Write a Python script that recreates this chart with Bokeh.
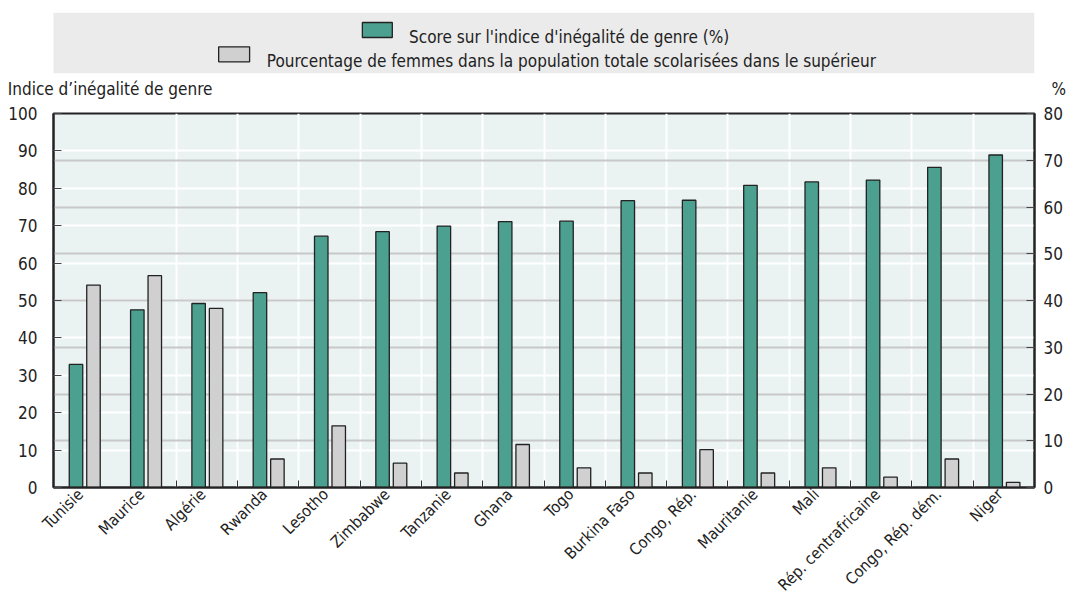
from math import pi
from bokeh.plotting import figure
from bokeh.models import Range1d, LinearAxis, FixedTicker, Grid, ColumnDataSource
from bokeh.layouts import column
from bokeh.core.properties import value
from bokeh.embed import file_html
from bokeh.resources import INLINE

# ---------------- data ----------------
countries = ["Tunisie", "Maurice", "Algérie", "Rwanda", "Lesotho", "Zimbabwe",
             "Tanzanie", "Ghana", "Togo", "Burkina Faso", "Congo, Rép.",
             "Mauritanie", "Mali", "Rép. centrafricaine", "Congo, Rép. dém.", "Niger"]
gii_score = [32.9, 47.5, 49.2, 52.1, 67.2, 68.4, 69.9, 71.1, 71.2, 76.7, 76.8,
             80.8, 81.7, 82.2, 85.6, 88.9]
women_tertiary = [43.3, 45.3, 38.3, 6.1, 13.2, 5.2, 3.1, 9.2, 4.2, 3.1, 8.1,
                  3.1, 4.2, 2.2, 6.1, 1.1]
left_ticks = [0, 10, 20, 30, 40, 50, 60, 70, 80, 90, 100]
right_ticks = [0, 10, 20, 30, 40, 50, 60, 70, 80]
legend_labels = ["Score sur l'indice d'inégalité de genre (%)",
                 "Pourcentage de femmes dans la population totale scolarisées dans le supérieur"]
left_title = "Indice d’inégalité de genre"
right_title = "%"

# ---------------- style ----------------
FONT = "DejaVu Sans Condensed, DejaVu Sans, sans-serif"
FS = "17px"
GREEN = "#4BA08F"
GREY = "#D0D0D0"
EDGE = "#222222"
TXT = "#222222"
W = 1069
H = 604
FL, FR = 53, 1036          # frame edges (page pixels)

# ---------------- legend / header figure ----------------
HH = 100
lf = figure(width=W, height=HH, x_range=Range1d(FL, FR), y_range=Range1d(HH, 0),
            output_backend="svg", toolbar_location=None,
            min_border_left=FL, min_border_right=W - FR, min_border_top=0, min_border_bottom=0,
            x_axis_location=None, y_axis_location=None, outline_line_color=None)
lf.grid.visible = False
lf.quad(left=[52], right=[1036], top=[12.3], bottom=[72.7], fill_color="#EBEBEB", line_color=None)
lf.quad(left=[362.5, 218.5], right=[392.5, 249.5], top=[22, 46.3], bottom=[37, 61.3],
        fill_color=[GREEN, GREY], line_color=EDGE, line_width=1.3)
lf.text(x=[409.3, 266.7], y=[36.5, 60.0], text=legend_labels,
        text_font=value(FONT), text_font_size=FS, text_color=TXT,
        text_baseline="alphabetic", text_align="left")

# axis titles drawn as single tick labels of invisible header axes (not clipped)
TY = 88
t_left = LinearAxis(ticker=FixedTicker(ticks=[TY]), major_label_overrides={TY: left_title},
                    major_label_standoff=-(218 - FL))
t_right = LinearAxis(ticker=FixedTicker(ticks=[TY]), major_label_overrides={TY: right_title},
                     major_label_standoff=1047 - FR)
for ax in (t_left, t_right):
    ax.axis_line_color = None
    ax.major_tick_line_color = None
    ax.minor_tick_line_color = None
    ax.major_label_text_font = FONT
    ax.major_label_text_font_size = FS
    ax.major_label_text_color = TXT
lf.add_layout(t_left, "left")
lf.add_layout(t_right, "right")

# ---------------- main figure ----------------
idx = list(range(len(countries)))
src = ColumnDataSource(dict(
    xg=[i - 0.133 for i in idx], xw=[i + 0.152 for i in idx],
    gii=gii_score, wom=women_tertiary, name=countries))

p = figure(width=W, height=H - HH, x_range=Range1d(-0.5, len(countries) - 0.5),
           y_range=Range1d(0, 100), output_backend="svg", toolbar_location=None,
           min_border_left=FL, min_border_right=W - FR, min_border_top=113 - HH,
           min_border_bottom=112,
           background_fill_color="#EAF3F2", outline_line_color=EDGE, outline_line_width=2)
p.extra_y_ranges = {"right": Range1d(0, 80)}

# grids
p.ygrid.ticker = FixedTicker(ticks=left_ticks)
p.ygrid.grid_line_color = "white"
p.ygrid.grid_line_width = 2
p.xgrid.ticker = FixedTicker(ticks=[k - 0.5 for k in range(2, len(countries))])
p.xgrid.grid_line_color = "white"
p.xgrid.grid_line_width = 2
g2 = Grid(dimension=1, ticker=FixedTicker(ticks=right_ticks), y_range_name="right",
          grid_line_color="#C8C8C8", grid_line_width=2)
p.add_layout(g2)

# bars
p.vbar(x="xg", top="gii", width=0.22, bottom=0, source=src,
       fill_color=GREEN, line_color=EDGE, line_width=1.3)
p.vbar(x="xw", top="wom", width=0.22, bottom=0, source=src, y_range_name="right",
       fill_color=GREY, line_color=EDGE, line_width=1.3)

# axes (category labels anchored just left of the category centre)
LBL_SHIFT = -0.0625
label_pos = [i + LBL_SHIFT for i in idx]
xa = p.xaxis[0]
xa.ticker = FixedTicker(ticks=label_pos, minor_ticks=[k - 0.5 for k in range(2, len(countries))])
xa.major_label_overrides = {pos: c for pos, c in zip(label_pos, countries)}
xa.major_label_orientation = pi / 4
xa.major_tick_in = 0
xa.major_tick_out = 0
xa.minor_tick_in = 7
xa.minor_tick_out = 0
xa.minor_tick_line_color = "#333333"
xa.major_label_standoff = 4

ya = p.yaxis[0]
ya.ticker = FixedTicker(ticks=left_ticks)
ya.major_tick_in = 8
ya.major_tick_out = 0
ya.major_label_standoff = 16
ya.minor_tick_line_color = None

ra = LinearAxis(y_range_name="right", ticker=FixedTicker(ticks=right_ticks))
ra.major_tick_in = 8
ra.major_tick_out = 0
ra.major_label_standoff = 9
ra.minor_tick_line_color = None
p.add_layout(ra, "right")

for ax in (xa, ya, ra):
    ax.axis_line_color = EDGE
    ax.axis_line_width = 2
    ax.major_tick_line_color = "#444444"
    ax.major_label_text_font = FONT
    ax.major_label_text_font_size = FS
    ax.major_label_text_color = TXT
xa.major_label_text_font_size = "16px"

layout = column(lf, p, spacing=0)
open("out.html", "w").write(file_html(layout, INLINE))
